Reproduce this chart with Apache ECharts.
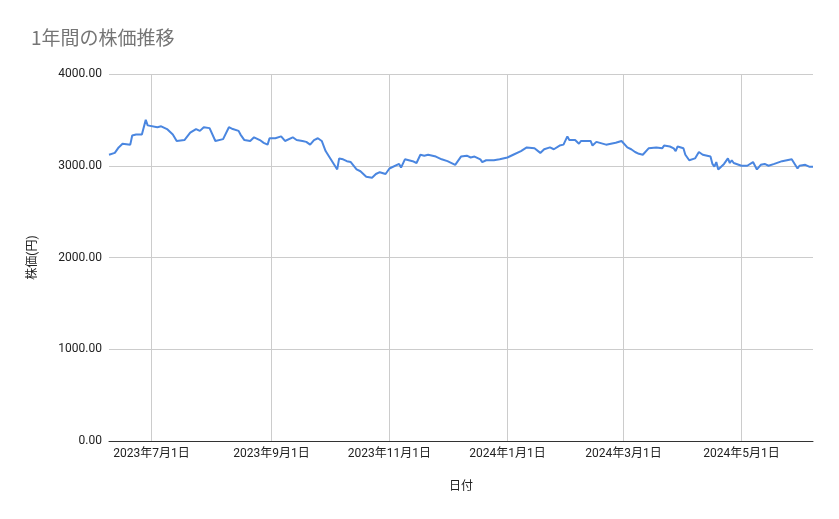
<!DOCTYPE html>
<html><head><meta charset="utf-8">
<script src="https://cdn.jsdelivr.net/npm/echarts@6/dist/echarts.min.js"></script>
<style>html,body{margin:0;padding:0;background:#fff}#c{width:839px;height:519px}</style>
</head><body><div id="c"></div>
<script>
const dates = [
'2023-06-09','2023-06-12','2023-06-14','2023-06-15','2023-06-16','2023-06-20','2023-06-21','2023-06-23','2023-06-26','2023-06-28',
'2023-06-29','2023-06-30','2023-07-04','2023-07-06','2023-07-09','2023-07-12','2023-07-14','2023-07-18','2023-07-21','2023-07-24',
'2023-07-25','2023-07-26','2023-07-28','2023-07-31','2023-08-01','2023-08-03','2023-08-04','2023-08-07','2023-08-10','2023-08-12',
'2023-08-15','2023-08-16','2023-08-18','2023-08-21','2023-08-23','2023-08-26','2023-08-28','2023-08-29','2023-08-30','2023-08-31',
'2023-09-03','2023-09-06','2023-09-08','2023-09-12','2023-09-14','2023-09-17','2023-09-19','2023-09-21','2023-09-23','2023-09-25',
'2023-09-27','2023-09-29','2023-10-02','2023-10-05','2023-10-06','2023-10-08','2023-10-10','2023-10-12','2023-10-15','2023-10-17',
'2023-10-18','2023-10-20','2023-10-23','2023-10-25','2023-10-26','2023-10-27','2023-10-30','2023-11-01','2023-11-06','2023-11-07',
'2023-11-09','2023-11-13','2023-11-15','2023-11-16','2023-11-17','2023-11-19','2023-11-21','2023-11-25','2023-11-28','2023-12-01',
'2023-12-05','2023-12-08','2023-12-11','2023-12-13','2023-12-15','2023-12-18','2023-12-19','2023-12-21','2023-12-25','2023-12-26',
'2023-12-28','2024-01-01','2024-01-04','2024-01-08','2024-01-11','2024-01-15','2024-01-16','2024-01-18','2024-01-20','2024-01-23',
'2024-01-25','2024-01-26','2024-01-28','2024-01-30','2024-02-01','2024-02-02','2024-02-05','2024-02-06','2024-02-07','2024-02-08',
'2024-02-09','2024-02-13','2024-02-14','2024-02-16','2024-02-21','2024-02-26','2024-02-27','2024-02-29','2024-03-03','2024-03-05',
'2024-03-06','2024-03-07','2024-03-09','2024-03-11','2024-03-14','2024-03-18','2024-03-21','2024-03-22','2024-03-25','2024-03-27',
'2024-03-28','2024-03-29','2024-04-01','2024-04-02','2024-04-04','2024-04-07','2024-04-09','2024-04-11','2024-04-15','2024-04-16',
'2024-04-17','2024-04-18','2024-04-19','2024-04-22','2024-04-24','2024-04-25','2024-04-26','2024-04-27','2024-05-01','2024-05-04',
'2024-05-07','2024-05-09','2024-05-11','2024-05-13','2024-05-15','2024-05-18','2024-05-22','2024-05-23','2024-05-27','2024-05-30',
'2024-05-31','2024-06-03','2024-06-04','2024-06-05','2024-06-07'
];
const prices = [
3120,3140,3200,3190,3240,3230,3330,3340,3340,3500,
3440,3430,3420,3430,3400,3340,3270,3280,3360,3400,
3400,3380,3420,3410,3430,3270,3280,3290,3420,3400,
3380,3340,3280,3270,3310,3280,3250,3270,3230,3300,
3300,3320,3270,3310,3280,3270,3260,3230,3280,3300,
3270,3160,3060,2960,3080,3070,3050,3040,2960,2940,
2950,2880,2870,2910,2900,2930,2910,2970,3020,2980,
3070,3050,3030,3010,3120,3110,3120,3100,3070,3050,
3010,3100,3110,3090,3100,3070,3040,3060,3060,3040,
3070,3090,3120,3160,3200,3190,3180,3140,3180,3200,
3180,3170,3220,3230,3320,3280,3280,3300,3240,3270,
3250,3270,3220,3260,3230,3250,3230,3270,3200,3180,
3190,3150,3130,3120,3190,3200,3190,3220,3210,3190,
3160,3210,3190,3120,3060,3080,3150,3120,3100,3020,
2990,3040,2960,3020,3080,3030,3060,3030,3000,3000,
3040,2960,3010,3020,3000,3020,3050,3040,3070,2970,
3000,3010,3030,2990,2990
];
const tickDates = ['2023-07-01','2023-09-01','2023-11-01','2024-01-01','2024-03-01','2024-05-01'];
const yTicks = [0, 1000, 2000, 3000, 4000];

function toTs(s){ const p = s.split('-').map(Number); return new Date(p[0], p[1]-1, p[2]).getTime(); }
function fmtDate(v){ const d = new Date(v); return d.getFullYear() + '年' + (d.getMonth()+1) + '月' + d.getDate() + '日'; }

const seriesData = dates.map((d, i) => [toTs(d), prices[i]]);
const tickTs = tickDates.map(toTs);
const font = 'Roboto, "Noto Sans CJK JP", sans-serif';

const chart = echarts.init(document.getElementById('c'), null, {renderer: 'canvas'});
chart.setOption({
  backgroundColor: '#ffffff',
  animation: false,
  title: {
    text: '1年間の株価推移',
    left: 26, top: 23,
    textStyle: {color: '#757575', fontSize: 19, fontWeight: 'normal', fontFamily: '"Noto Sans CJK JP", Roboto, sans-serif'}
  },
  grid: {left: 109, right: 26, top: 74, bottom: 78, containLabel: false, outerBoundsMode: 'none'},
  xAxis: {
    type: 'value',
    min: toTs(dates[0]),
    max: toTs(dates[dates.length - 1]),
    name: '日付',
    nameLocation: 'middle',
    nameGap: 40,
    nameTextStyle: {color: '#222', fontSize: 12, fontFamily: font},
    axisLine: {show: true, onZero: false, lineStyle: {color: '#333', width: 1}},
    axisTick: {show: false, customValues: tickTs},
    axisLabel: {customValues: tickTs, formatter: fmtDate, color: '#222', fontSize: 12, margin: 7, fontFamily: font, hideOverlap: false, showMinLabel: true, showMaxLabel: true},
    splitLine: {show: true, lineStyle: {color: '#cccccc', width: 1}}
  },
  yAxis: {
    type: 'value',
    min: yTicks[0], max: yTicks[yTicks.length - 1], interval: 1000,
    name: '株価(円)',
    nameLocation: 'middle',
    nameGap: 70,
    nameTextStyle: {color: '#222', fontSize: 12, fontFamily: font},
    axisLine: {show: false},
    axisTick: {show: false},
    axisLabel: {formatter: v => v.toFixed(2), color: '#222', fontSize: 12, margin: 7, fontFamily: font},
    splitLine: {show: true, lineStyle: {color: '#cccccc', width: 1}}
  },
  series: [{
    type: 'line',
    data: seriesData,
    showSymbol: false,
    symbol: 'none',
    smooth: false,
    lineStyle: {color: '#4a86e0', width: 2},
    itemStyle: {color: '#4a86e0'}
  }]
});
</script>
</body></html>
